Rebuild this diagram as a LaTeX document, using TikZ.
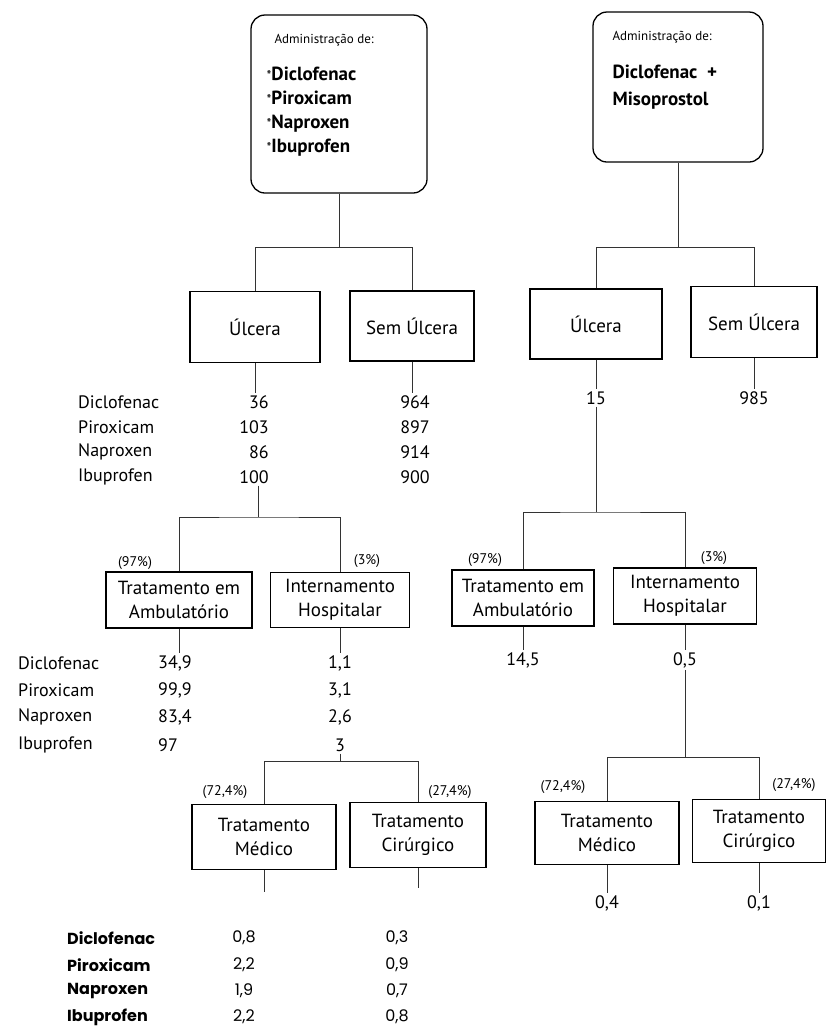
\documentclass[tikz,border=0pt]{standalone}
\usepackage{fontspec}
\setmainfont{PT Sans}
\newfontfamily\bottomfont{Poppins}
\usetikzlibrary{calc,positioning}

\newcommand{\boxfont}{\fontsize{19}{24}\selectfont}
\newcommand{\headfont}{\fontsize{13}{16}\selectfont}
\newcommand{\pctfont}{\fontsize{14}{16}\selectfont}
\newcommand{\numfont}{\fontsize{18}{22}\selectfont}

\tikzset{
  admbox/.style={draw, line width=1.3pt, rounded corners=14pt},
  casebox/.style={draw, line width=1.3pt, align=center, font=\boxfont, inner sep=2pt},
  link/.style={draw=black!80, line width=0.8pt},
  drug/.style={anchor=west, inner sep=1pt, font=\numfont},
  val/.style={inner sep=2pt, font=\numfont},
  pct/.style={inner sep=1pt, font=\pctfont},
  btab/.style={inner sep=1pt, font=\bottomfont\fontsize{16}{20}\selectfont},
}

\begin{document}
\begin{tikzpicture}[x=1pt,y=-1pt]
\useasboundingbox (0,0) rectangle (830,1029);

% top boxes
\node[admbox, minimum width=176, minimum height=178] (adm1) at (339,104) {};
\node[anchor=north west, align=left, inner sep=0pt, font=\boxfont] (adm1txt) at ($(adm1.north west)+(16,20)$)
  {\hspace*{8pt}{\headfont Administração de:}\\[13pt]
   {\pctfont *}\textbf{Diclofenac}\\ {\pctfont *}\textbf{Piroxicam}\\ {\pctfont *}\textbf{Naproxen}\\ {\pctfont *}\textbf{Ibuprofen}};
\node[admbox, minimum width=170, minimum height=150] (adm2) at (678,87) {};
\node[anchor=north west, align=left, inner sep=0pt, font=\boxfont] (adm2txt) at ($(adm2.north west)+(20,20)$)
  {{\headfont Administração de:}\\[14pt] \textbf{Diclofenac~~+}\\[3pt] \textbf{Misoprostol}};

% ulcer / no ulcer
\node[casebox, minimum width=130, minimum height=71] (ulc1) at (255,327) {Úlcera};
\node[casebox, minimum width=124, minimum height=70] (sem1) at (412,326) {Sem Úlcera};
\node[casebox, minimum width=132, minimum height=70] (ulc2) at (596,324) {Úlcera};
\node[casebox, minimum width=126, minimum height=71] (sem2) at (754,322) {Sem Úlcera};

\coordinate (k1a) at (255,247);
\coordinate (k1b) at (412,247);
\coordinate (k1c) at (596,247);
\coordinate (k1d) at (754,247);
\draw[link] (adm1.south) -- (adm1.south |- k1a);
\draw[link] (ulc1.north) -- (k1a) -- (k1b) -- (sem1.north);
\draw[link] (adm2.south) -- (adm2.south |- k1c);
\draw[link] (ulc2.north) -- (k1c) -- (k1d) -- (sem2.north);

% first table
\node[drug] (d11) at (77,402) {Diclofenac};
\node[drug] (d12) at (77,427) {Piroxicam};
\node[drug] (d13) at (77,452) {Naproxen};
\node[drug] (d14) at (77,477) {Ibuprofen};
\node[val, anchor=east] (v11) at (271,402) {36};
\node[val, anchor=east] (v12) at (271,427) {103};
\node[val, anchor=east] (v13) at (271,452) {86};
\node[val, anchor=east] (v14) at (271,477) {100};
\node[val, anchor=east] (v21) at (432,402) {964};
\node[val, anchor=east] (v22) at (432,427) {897};
\node[val, anchor=east] (v23) at (432,452) {914};
\node[val, anchor=east] (v24) at (432,477) {900};
\node[val] (r1) at (596,398) {15};
\node[val] (r2) at (754,398) {985};
\draw[link] (ulc1.south) -- (ulc1.south |- v11.north);
\draw[link] (sem1.south) -- (sem1.south |- v21.north);
\draw[link] (ulc2.south) -- (r1);
\draw[link] (sem2.south) -- (r2);

% ambulatory / hospital
\node[casebox, minimum width=146, minimum height=56] (amb1) at (179,600) {Tratamento em\\Ambulatório};
\node[casebox, minimum width=139, minimum height=55] (int1) at (340,600) {Internamento\\Hospitalar};
\node[casebox, minimum width=142, minimum height=56] (amb2) at (523,598) {Tratamento em\\Ambulatório};
\node[casebox, minimum width=143, minimum height=56] (int2) at (685,596) {Internamento\\Hospitalar};

\coordinate (k2) at (258,517);
\coordinate (k3) at (596,512);
\draw[link] (k2 |- v14.south) -- (k2);
\draw[link] (amb1.north) |- (k2) -| (int1.north);
\draw[link] (r1.south) -- (k3);
\draw[link] (amb2.north) |- (k3) -| (int2.north);

\node[pct] (p1) at (135,563) {(97\%)};
\node[pct] (p2) at (367,561) {(3\%)};
\node[pct] (p3) at (485,560) {(97\%)};
\node[pct] (p4) at (714,558) {(3\%)};

% second table
\node[drug] (d21) at (17,663) {Diclofenac};
\node[drug] (d22) at (17,690) {Piroxicam};
\node[drug] (d23) at (17,717) {Naproxen};
\node[drug] (d24) at (17,745) {Ibuprofen};
\node[val, anchor=west] (w11) at (156,663) {34,9};
\node[val, anchor=west] (w12) at (156,690) {99,9};
\node[val, anchor=west] (w13) at (156,717) {83,4};
\node[val, anchor=west] (w14) at (156,745) {97};
\node[val] (w21) at (340,663) {1,1};
\node[val] (w22) at (340,690) {3,1};
\node[val] (w23) at (340,717) {2,6};
\node[val] (w24) at (340,745) {3};
\node[val] (r3) at (523,660) {14,5};
\node[val] (r4) at (685,660) {0,5};
\draw[link] (amb1.south) -- (amb1.south |- w11.north);
\draw[link] (int1.south) -- (w21);
\draw[link] (amb2.south) -- (r3);
\draw[link] (int2.south) -- (r4);

% medical / surgical
\node[casebox, minimum width=144, minimum height=65] (med1) at (264,837) {Tratamento\\Médico};
\node[casebox, minimum width=136, minimum height=65] (cir1) at (418,835) {Tratamento\\Cirúrgico};
\node[casebox, minimum width=144, minimum height=63] (med2) at (607,833) {Tratamento\\Médico};
\node[casebox, minimum width=133, minimum height=63] (cir2) at (759,831) {Tratamento\\Cirúrgico};

\coordinate (k4) at (340,761);
\coordinate (k5) at (685,757);
\draw[link] (w24.south) -- (k4);
\draw[link] (med1.north) |- (k4) -| (cir1.north);
\draw[link] (r4.south) -- (k5);
\draw[link] (med2.north) |- (k5) -| (cir2.north);

\node[pct] (p5) at (225,792) {(72,4\%)};
\node[pct] (p6) at (450,792) {(27,4\%)};
\node[pct] (p7) at (563,787) {(72,4\%)};
\node[pct] (p8) at (794,785) {(27,4\%)};

\node[val] (r5) at (607,903) {0,4};
\node[val] (r6) at (759,903) {0,1};
\draw[link] (med2.south) -- (r5);
\draw[link] (cir2.south) -- (r6);
\coordinate (e1) at ($(med1.south)+(0,22)$);
\coordinate (e2) at ($(cir1.south)+(0,20)$);
\draw[link] (med1.south) -- (e1);
\draw[link] (cir1.south) -- (e2);

% bottom table
\node[btab, anchor=west, font=\bottomfont\bfseries\fontsize{16}{20}\selectfont] (b11) at (66,938) {Diclofenac};
\node[btab, anchor=west, font=\bottomfont\bfseries\fontsize{16}{20}\selectfont] (b12) at (66,965) {Piroxicam};
\node[btab, anchor=west, font=\bottomfont\bfseries\fontsize{16}{20}\selectfont] (b13) at (66,991) {Naproxen};
\node[btab, anchor=west, font=\bottomfont\bfseries\fontsize{16}{20}\selectfont] (b14) at (66,1017) {Ibuprofen};
\node[btab] (b21) at (244,938) {0,8};
\node[btab] (b22) at (244,965) {2,2};
\node[btab] (b23) at (244,991) {1,9};
\node[btab] (b24) at (244,1017) {2,2};
\node[btab] (b31) at (397,938) {0,3};
\node[btab] (b32) at (397,965) {0,9};
\node[btab] (b33) at (397,991) {0,7};
\node[btab] (b34) at (397,1017) {0,8};
\end{tikzpicture}
\end{document}
